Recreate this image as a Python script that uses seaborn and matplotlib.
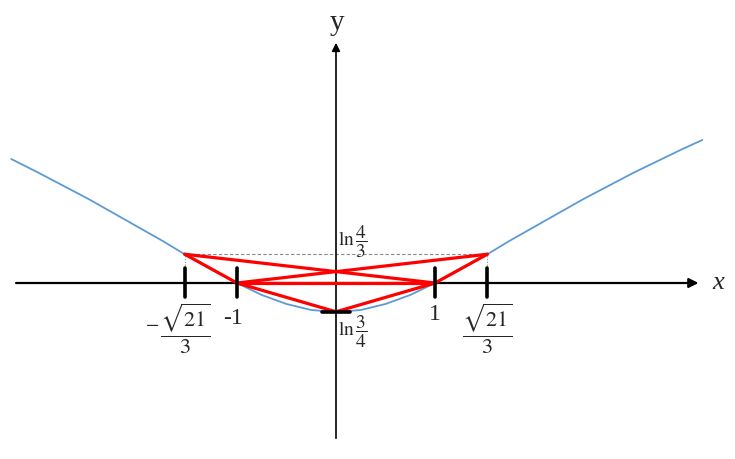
import matplotlib
matplotlib.use("Agg")
import matplotlib.pyplot as plt
import seaborn as sns
import numpy as np
import pandas as pd

# curve y = ln((x^2+3)/4)
curve_x = [-3.28, -3.0, -2.75, -2.5, -2.25, -2.0, -1.75, -1.5, -1.25, -1.0,
           -0.75, -0.5, -0.25, 0.0, 0.25, 0.5, 0.75, 1.0, 1.25, 1.5,
           1.75, 2.0, 2.25, 2.5, 2.75, 3.0, 3.25, 3.5, 3.7]
curve_y = [1.24, 1.10, 0.97, 0.84, 0.70, 0.56, 0.42, 0.27, 0.13, 0.0,
           -0.12, -0.21, -0.27, -0.29, -0.27, -0.21, -0.12, 0.0, 0.13, 0.27,
           0.42, 0.56, 0.70, 0.84, 0.97, 1.10, 1.22, 1.34, 1.43]

# key points A, B, C, D, E
pt_names = ["A", "B", "C", "D", "E"]
pt_x = [-np.sqrt(21) / 3, -1.0, 0.0, 1.0, np.sqrt(21) / 3]
pt_y = [np.log(4 / 3), 0.0, np.log(3 / 4), 0.0, np.log(4 / 3)]
red_pairs = [("A", "B"), ("A", "D"), ("B", "D"), ("B", "C"),
             ("C", "D"), ("E", "D"), ("E", "B")]

tick_x = [-np.sqrt(21) / 3, -1.0, 1.0, np.sqrt(21) / 3]
tick_labels = [r"$\dfrac{\sqrt{21}}{3}$", "-1", "1", r"$\dfrac{\sqrt{21}}{3}$"]

pts = pd.DataFrame({"x": pt_x, "y": pt_y}, index=pt_names)
curve = pd.DataFrame({"x": curve_x, "y": curve_y})

sns.set_style("white")
plt.rcParams["mathtext.fontset"] = "stix"
plt.rcParams["font.family"] = ["Liberation Serif", "DejaVu Serif"]

fig = plt.figure(figsize=(7.35, 4.59), dpi=100)
ax = fig.add_axes([0, 0, 1, 1])
ax.set_xlim(-336 / 99, (735 - 336) / 99)
ax.set_ylim(-176 / 100, 283 / 100)
ax.axis("off")

# axes with arrows
ax.annotate("", xy=(3.69, 0), xytext=(-3.26, 0),
            arrowprops=dict(arrowstyle="-|>", color="black", lw=1.6, mutation_scale=14))
ax.annotate("", xy=(0, 2.43), xytext=(0, -1.58),
            arrowprops=dict(arrowstyle="-|>", color="black", lw=1.2, mutation_scale=12))
ax.text(3.86, 0.0, "x", fontsize=19, style="italic", ha="center", va="center")
ax.text(0.01, 2.6, "y", fontsize=21, ha="center", va="center")

# curve
sns.lineplot(data=curve, x="x", y="y", ax=ax, sort=False, color="#5B9BD5",
             linewidth=1.3, zorder=2)

# guide lines
ax.plot([pts.loc["A", "x"], pts.loc["E", "x"]], [pts.loc["A", "y"]] * 2,
        color="#888888", lw=0.8, ls=(0, (3, 2)), zorder=1)
for p in ["A", "E"]:
    ax.plot([pts.loc[p, "x"]] * 2, [0.15, pts.loc[p, "y"]],
            color="#888888", lw=0.8, ls=(0, (1, 1.5)), zorder=1)

# red segments
for a, b in red_pairs:
    ax.plot([pts.loc[a, "x"], pts.loc[b, "x"]], [pts.loc[a, "y"], pts.loc[b, "y"]],
            color="#FF0000", lw=2.3, solid_capstyle="round", zorder=3)

# tick marks
for tx in tick_x:
    ax.plot([tx, tx], [-0.14, 0.15], color="black", lw=2.6, zorder=4)
ax.plot([-0.14, 0.14], [pts.loc["C", "y"]] * 2, color="black", lw=2.6, zorder=4)

# tick labels
ax.text(tick_x[0] - 0.33, -0.44, "−", fontsize=17, ha="center", va="center")
ax.text(tick_x[0], -0.46, tick_labels[0], fontsize=16, ha="center", va="center")
ax.text(tick_x[1] - 0.04, -0.36, tick_labels[1], fontsize=17, ha="center", va="center")
ax.text(tick_x[2], -0.31, tick_labels[2], fontsize=17, ha="center", va="center")
ax.text(tick_x[3], -0.46, tick_labels[3], fontsize=16, ha="center", va="center")

ax.text(0.02, 0.41, r"$\mathrm{ln}\,\dfrac{4}{3}$", fontsize=14, ha="left", va="center")
ax.text(0.02, -0.49, r"$\mathrm{ln}\,\dfrac{3}{4}$", fontsize=14, ha="left", va="center")

fig.savefig("out.png", dpi=100)
